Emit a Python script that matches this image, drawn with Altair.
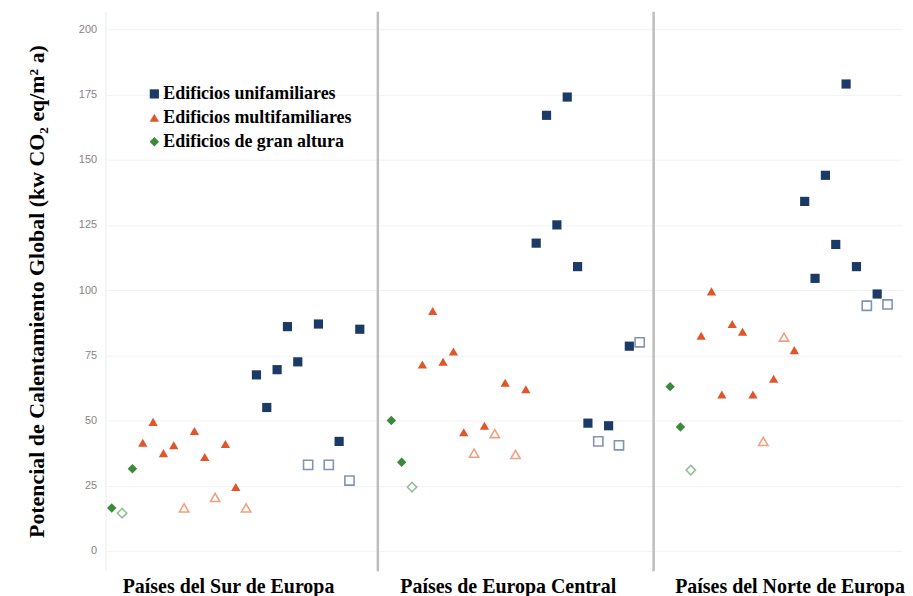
import altair as alt
import pandas as pd

regiones = ["Países del Sur de Europa", "Países de Europa Central", "Países del Norte de Europa"]
tipos = ["Edificios unifamiliares", "Edificios multifamiliares", "Edificios de gran altura"]

# type codes: U = unifamiliares, M = multifamiliares, G = gran altura
sur_tipo = ["G", "G", "G", "M", "M", "M", "M", "M", "M", "M", "M", "M", "M", "M",
            "U", "U", "U", "U", "U", "U", "U", "U", "U", "U", "U"]
sur_valor = [16.5, 14.5, 31.5, 41.5, 49.5, 37.5, 40.5, 16.5, 46, 36, 20.5, 41, 24.5, 16.5,
             67.5, 55, 69.5, 86, 72.5, 33, 87, 33, 42, 27, 85]
sur_relleno = [1, 0, 1, 1, 1, 1, 1, 0, 1, 1, 0, 1, 1, 0,
               1, 1, 1, 1, 1, 0, 1, 0, 1, 0, 1]

central_tipo = ["G", "G", "G", "M", "M", "M", "M", "M", "M", "M", "M", "M", "M", "M",
                "U", "U", "U", "U", "U", "U", "U", "U", "U", "U", "U"]
central_valor = [50, 34, 24.5, 71.5, 92, 72.5, 76.5, 45.5, 37.5, 48, 45, 64.5, 37, 62,
                 118, 167, 125, 174, 109, 49, 42, 48, 40.5, 78.5, 80]
central_relleno = [1, 1, 0, 1, 1, 1, 1, 1, 0, 1, 0, 1, 0, 1,
                   1, 1, 1, 1, 1, 1, 0, 1, 0, 1, 0]

norte_tipo = ["G", "G", "G", "M", "M", "M", "M", "M", "M", "M", "M", "M", "M",
              "U", "U", "U", "U", "U", "U", "U", "U", "U"]
norte_valor = [63, 47.5, 31, 82.5, 99.5, 60, 87, 84, 60, 42, 66, 82, 77,
               134, 104.5, 144, 117.5, 179, 109, 94, 98.5, 94.5]
norte_relleno = [1, 1, 0, 1, 1, 1, 1, 1, 1, 0, 1, 0, 1,
                 1, 1, 1, 1, 1, 1, 0, 1, 0]

codigo = {"U": tipos[0], "M": tipos[1], "G": tipos[2]}

colores = ["#1c3a66", "#e0552a", "#3a8a3a"]
colores_claros = ["#8094b4", "#f0a07e", "#98c098"]
formas = ["square", "triangle-up", "diamond"]
tamanos = [85, 90, 50]


def tabla(t, v, r):
    return pd.DataFrame({
        "idx": list(range(len(v))),
        "tipo": [codigo[c] for c in t],
        "valor": v,
        "relleno": r,
    })


Y_DOM = [-7.6, 206.87]


def panel(df, x_dom, width, title, title_x, first):
    if first:
        yaxis = alt.Axis(values=list(range(0, 201, 25)), grid=True, gridColor="#f2f2f2",
                         domainColor="#ececec", ticks=False, labelColor="#858585",
                         labelFont="Liberation Sans", labelFontSize=11, labelPadding=9,
                         title="Potencial de Calentamiento Global (kw CO₂ eq/m² a)",
                         titleFont="Liberation Serif", titleFontWeight="bold",
                         titleFontSize=22, titleColor="#000000", titlePadding=30)
    else:
        yaxis = alt.Axis(values=list(range(0, 201, 25)), grid=True, gridColor="#f2f2f2",
                         domainColor="#bdbdbd", domainWidth=2.5, ticks=False,
                         labels=False, title=None)
    xaxis = alt.Axis(labels=False, ticks=False, domain=False, grid=False, title=title,
                     titleFont="Liberation Serif", titleFontWeight="bold", titleFontSize=20,
                     titleColor="#000000", titleX=title_x, titleAlign="center", titlePadding=6)
    x = alt.X("idx:Q", scale=alt.Scale(domain=x_dom, nice=False, zero=False), axis=xaxis)
    y = alt.Y("valor:Q", scale=alt.Scale(domain=Y_DOM, nice=False, zero=False), axis=yaxis)
    legend = alt.Legend(title=None, orient="none", legendX=40, legendY=74,
                        labelFont="Liberation Serif", labelFontWeight="bold",
                        labelFontSize=18, labelColor="#000000", labelLimit=0,
                        symbolSize=70, rowPadding=6, labelOffset=0,
                        symbolStrokeWidth=0) if first else None
    base = alt.Chart(df).encode(x=x, y=y)
    llenos = base.transform_filter("datum.relleno == 1").mark_point(
        filled=True, opacity=1).encode(
        color=alt.Color("tipo:N", scale=alt.Scale(domain=tipos, range=colores), legend=legend),
        shape=alt.Shape("tipo:N", scale=alt.Scale(domain=tipos, range=formas), legend=legend),
        size=alt.Size("tipo:N", scale=alt.Scale(domain=tipos, range=tamanos), legend=None),
    )
    vacios = base.transform_filter("datum.relleno == 0").mark_point(
        filled=False, fill="#ffffff", opacity=1, strokeWidth=1.6).encode(
        stroke=alt.Stroke("tipo:N", scale=alt.Scale(domain=tipos, range=colores_claros), legend=None),
        shape=alt.Shape("tipo:N", scale=alt.Scale(domain=tipos, range=formas), legend=None),
        size=alt.Size("tipo:N", scale=alt.Scale(domain=tipos, range=[60, 70, 40]), legend=None),
    )
    return alt.layer(llenos, vacios).properties(width=width, height=562)


p1 = panel(tabla(sur_tipo, sur_valor, sur_relleno), [-0.6, 25.7], 273, regiones[0], 123, True)
p2 = panel(tabla(central_tipo, central_valor, central_relleno), [-1.35, 25.3], 277, regiones[1], 131, False)
p3 = panel(tabla(norte_tipo, norte_valor, norte_relleno), [-1.64, 22.4], 250, regiones[2], 137, False)

chart = alt.hconcat(p1, p2, p3, spacing=0).resolve_scale(
    color="independent", shape="independent", size="independent", stroke="independent"
).properties(
    padding={"top": 2, "bottom": 0, "left": 17, "right": 0}
).configure(background="#ffffff").configure_view(stroke=None)

chart.save("out.html", embed_options={"renderer": "svg", "actions": False})
